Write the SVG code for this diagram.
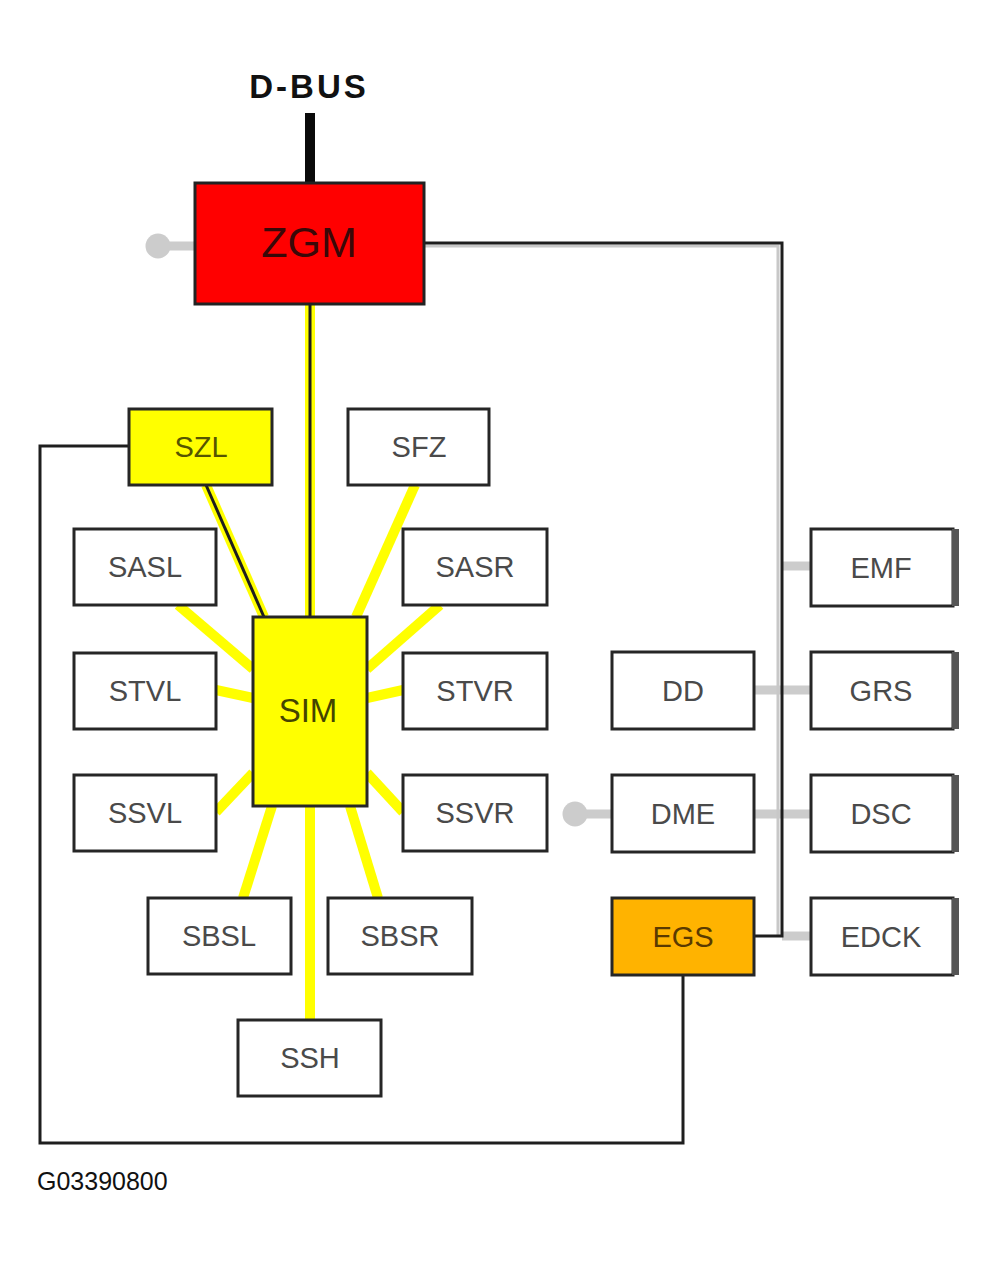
<svg xmlns="http://www.w3.org/2000/svg" width="997" height="1265" viewBox="0 0 997 1265">
<style>
.box{fill:#fff;stroke:#262626;stroke-width:3}
.lbl{font-family:"Liberation Sans",Arial,sans-serif;font-size:29px;fill:#4a4a4a;text-anchor:middle}
.ray{stroke:#ffff00;stroke-width:10;fill:none}
.blk{stroke:#1e1e1e;stroke-width:3;fill:none}
.stub{stroke:#cccccc;stroke-width:9;fill:none}
.edge{fill:#555}
</style>
<rect width="997" height="1265" fill="#fff"/>
<g id="connectors">
  <!-- yellow rays -->
  <line class="ray" x1="310" y1="304" x2="310" y2="617"/>
  <line class="ray" x1="206" y1="485" x2="264" y2="617"/>
  <line class="ray" x1="415" y1="485" x2="356" y2="617"/>
  <line class="ray" x1="178" y1="605" x2="253" y2="669"/>
  <line class="ray" x1="440" y1="605" x2="367" y2="669"/>
  <line class="ray" x1="216" y1="690" x2="253" y2="698"/>
  <line class="ray" x1="403" y1="690" x2="367" y2="698"/>
  <line class="ray" x1="253" y1="773" x2="216" y2="812"/>
  <line class="ray" x1="367" y1="773" x2="403" y2="812"/>
  <line class="ray" x1="272" y1="806" x2="243" y2="898"/>
  <line class="ray" x1="350" y1="806" x2="378" y2="898"/>
  <line class="ray" x1="310" y1="806" x2="310" y2="1020"/>
  <!-- black cores -->
  <line class="blk" x1="310" y1="304" x2="310" y2="617"/>
  <line class="blk" x1="206" y1="485" x2="264" y2="617"/>
  <!-- D-BUS -->
  <line x1="310" y1="113" x2="310" y2="183" stroke="#0a0a0a" stroke-width="10"/>
  <!-- grey stubs -->
  <line class="stub" x1="158" y1="246" x2="195" y2="246"/>
  <circle cx="158" cy="246" r="12.5" fill="#cccccc"/>
  <line class="stub" x1="575" y1="814" x2="612" y2="814"/>
  <circle cx="575" cy="814" r="12.5" fill="#cccccc"/>
  <line class="stub" x1="782" y1="566" x2="811" y2="566"/>
  <line class="stub" x1="754" y1="690" x2="811" y2="690"/>
  <line class="stub" x1="754" y1="814" x2="811" y2="814"/>
  <line class="stub" x1="782" y1="936" x2="811" y2="936"/>
  <!-- grey shadow of bus line -->
  <polyline points="424,246 778,246 778,935" fill="none" stroke="#c8c8c8" stroke-width="3"/>
  <!-- black links -->
  <polyline class="blk" points="424,243 782,243 782,936 753,936"/>
  <polyline class="blk" points="683,975 683,1143 40,1143 40,446 129,446"/>
</g>
<g id="dbus"><text x="309" y="98" font-family="'Liberation Sans',Arial,sans-serif" font-weight="bold" font-size="33" letter-spacing="3" text-anchor="middle" fill="#111">D-BUS</text></g>
<g id="ZGM"><rect x="195" y="183" width="229" height="121" fill="#ff0000" stroke="#222" stroke-width="3"/><text x="309" y="257" class="lbl" style="font-size:43px;fill:#3a0808">ZGM</text></g>
<g id="SZL"><rect class="box" x="129" y="409" width="143" height="76" style="fill:#ffff00"/><text x="201" y="457" class="lbl" style="fill:#555500">SZL</text></g>
<g id="SFZ"><rect class="box" x="348" y="409" width="141" height="76"/><text x="419" y="457" class="lbl">SFZ</text></g>
<g id="SASL"><rect class="box" x="74" y="529" width="142" height="76"/><text x="145" y="577" class="lbl">SASL</text></g>
<g id="SASR"><rect class="box" x="403" y="529" width="144" height="76"/><text x="475" y="577" class="lbl">SASR</text></g>
<g id="STVL"><rect class="box" x="74" y="653" width="142" height="76"/><text x="145" y="701" class="lbl">STVL</text></g>
<g id="STVR"><rect class="box" x="403" y="653" width="144" height="76"/><text x="475" y="701" class="lbl">STVR</text></g>
<g id="SSVL"><rect class="box" x="74" y="775" width="142" height="76"/><text x="145" y="823" class="lbl">SSVL</text></g>
<g id="SSVR"><rect class="box" x="403" y="775" width="144" height="76"/><text x="475" y="823" class="lbl">SSVR</text></g>
<g id="SBSL"><rect class="box" x="148" y="898" width="143" height="76"/><text x="219" y="946" class="lbl">SBSL</text></g>
<g id="SBSR"><rect class="box" x="328" y="898" width="144" height="76"/><text x="400" y="946" class="lbl">SBSR</text></g>
<g id="SSH"><rect class="box" x="238" y="1020" width="143" height="76"/><text x="310" y="1068" class="lbl">SSH</text></g>
<g id="SIM"><rect class="box" x="253" y="617" width="114" height="189" style="fill:#ffff00"/><text x="308" y="722" class="lbl" style="font-size:33px;fill:#444400">SIM</text></g>
<g id="DD"><rect class="box" x="612" y="652" width="142" height="77"/><text x="683" y="701" class="lbl">DD</text></g>
<g id="DME"><rect class="box" x="612" y="775" width="142" height="77"/><text x="683" y="824" class="lbl">DME</text></g>
<g id="EGS"><rect class="box" x="612" y="898" width="142" height="77" style="fill:#ffb300"/><text x="683" y="947" class="lbl" style="fill:#5a3a00">EGS</text></g>
<g id="EMF"><rect class="box" x="811" y="529" width="142" height="77"/><rect class="edge" x="952" y="529" width="7" height="77"/><text x="881" y="578" class="lbl">EMF</text></g>
<g id="GRS"><rect class="box" x="811" y="652" width="142" height="77"/><rect class="edge" x="952" y="652" width="7" height="77"/><text x="881" y="701" class="lbl">GRS</text></g>
<g id="DSC"><rect class="box" x="811" y="775" width="142" height="77"/><rect class="edge" x="952" y="775" width="7" height="77"/><text x="881" y="824" class="lbl">DSC</text></g>
<g id="EDCK"><rect class="box" x="811" y="898" width="142" height="77"/><rect class="edge" x="952" y="898" width="7" height="77"/><text x="881" y="947" class="lbl">EDCK</text></g>
<g id="caption"><text x="37" y="1190" font-family="'Liberation Sans',Arial,sans-serif" font-size="25" fill="#111">G03390800</text></g>
</svg>
